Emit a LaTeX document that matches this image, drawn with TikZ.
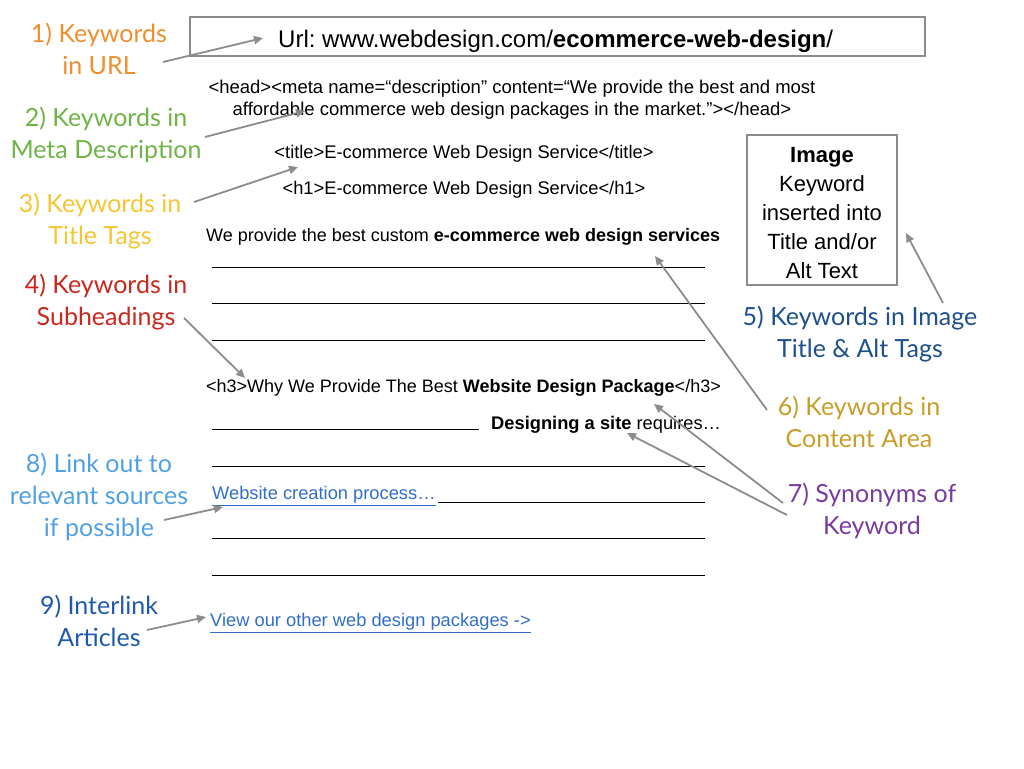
\documentclass[tikz,border=0pt]{standalone}
\usepackage{fontspec}
\setsansfont{Liberation Sans}
\newfontfamily\tagfont{Lato}
\usetikzlibrary{arrows.meta}

\definecolor{urlorange}{RGB}{238,142,44}
\definecolor{metagreen}{RGB}{110,180,70}
\definecolor{titleyellow}{RGB}{244,198,52}
\definecolor{subred}{RGB}{200,40,30}
\definecolor{imgblue}{RGB}{30,80,140}
\definecolor{contgold}{RGB}{200,158,40}
\definecolor{synpurple}{RGB}{120,60,160}
\definecolor{outblue}{RGB}{80,160,230}
\definecolor{interblue}{RGB}{30,90,170}
\definecolor{linkblue}{RGB}{50,110,200}
\definecolor{arrowgray}{RGB}{140,140,140}

\begin{document}
\frenchspacing
\begin{tikzpicture}[
    x=1pt, y=-1pt,
    tag/.style={align=center, inner sep=0pt, font=\tagfont\fontsize{25}{32}\selectfont},
    code/.style={anchor=west, inner sep=0pt, font=\sffamily\fontsize{18.3}{22}\selectfont},
    codec/.style={align=center, inner sep=0pt, font=\sffamily\fontsize{18.3}{22}\selectfont},
    link/.style={code, text=linkblue},
    rule/.style={line width=1pt},
    frame/.style={draw=arrowgray, line width=2pt},
    arrow/.style={-{Triangle[length=9pt,width=8pt]}, line width=1.8pt, draw=arrowgray}
]
\useasboundingbox (0,0) rectangle (1024,768);

% Labels on the left and right
\node[tag, text=urlorange] (kwurl) at (99,49) {1) Keywords\\in URL};
\node[tag, text=metagreen] (kwmeta) at (106,135) {2) Keywords in\\Meta Description};
\node[tag, text=titleyellow] (kwtitle) at (100,221) {3) Keywords in\\Title Tags};
\node[tag, text=subred] (kwsub) at (106,302) {4) Keywords in\\Subheadings};
\node[tag, text=imgblue] (kwimg) at (860,334) {5) Keywords in Image\\Title \& Alt Tags};
\node[tag, text=contgold] (kwcont) at (859,422) {6) Keywords in\\Content Area};
\node[tag, text=synpurple] (kwsyn) at (872,511) {7) Synonyms of\\Keyword};
\node[tag, text=outblue] (kwout) at (99,497) {8) Link out to\\relevant sources\\if possible};
\node[tag, text=interblue] (kwinter) at (99,621) {9) Interlink\\Articles};

% Page mock-up
\node[frame, minimum width=735pt, minimum height=39pt] (urlbox) at (557.5,36.5) {};
\node[code, font=\sffamily\fontsize{24}{28}\selectfont] (url) at (278,41) {Url: www.webdesign.com/\textbf{ecommerce-web-design}/};
\node[codec, font=\sffamily\fontsize{18.5}{22}\selectfont] (meta) at (512,100) {<head><meta name=“description” content=“We provide the best and most\\affordable commerce web design packages in the market.”></head>};
\node[codec] (titletag) at (464,154) {<title>E-commerce Web Design Service</title>};
\node[codec] (h1tag) at (464,190) {<h1>E-commerce Web Design Service</h1>};
\node[code, font=\sffamily\fontsize{18}{22}\selectfont] (intro) at (206,237) {We provide the best custom \textbf{e-commerce web design services}};
\node[code, font=\sffamily\fontsize{18}{22}\selectfont] (h3tag) at (206,388) {<h3>Why We Provide The Best \textbf{Website Design Package}</h3>};
\node[code] (design) at (491,425) {\textbf{Designing a site} requires…};
\node[link] (outlink) at (212,496) {\underline{Website creation process…}};
\node[link] (morelink) at (210,623) {\underline{View our other web design packages ->}};

\foreach \y in {267,303,340,466,538,575}
  \draw[rule] (212,\y) -- (705,\y);
\draw[rule] (212,429) -- (479,429);
\draw[rule] (438,502) -- (705,502);

% Image box
\node[frame, minimum width=150pt, minimum height=150pt] (imgbox) at (822,210) {};
\node[font=\sffamily\fontsize{22}{29}\selectfont, align=center, inner sep=0pt] (imgtext) at (822,213)
  {\textbf{Image}\\Keyword\\inserted into\\Title and/or\\Alt Text};

% Arrow ends
\coordinate (urlfrom) at (163,62);   \coordinate (urlto) at (263,38);
\coordinate (metafrom) at (205,137); \coordinate (metato) at (305,111);
\coordinate (titlefrom) at (194,202);\coordinate (titleto) at (298,167);
\coordinate (subfrom) at (184,318);  \coordinate (subto) at (245,378);
\coordinate (imgfrom) at (943,303);  \coordinate (imgto) at (906,233);
\coordinate (contfrom) at (767,410); \coordinate (contto) at (655,256);
\coordinate (synfromA) at (783,503); \coordinate (syntoA) at (654,404);
\coordinate (synfromB) at (787,515); \coordinate (syntoB) at (627,433);
\coordinate (outfrom) at (164,520);  \coordinate (outto) at (223,507);
\coordinate (interfrom) at (147,630);\coordinate (interto) at (206,617);

\draw[arrow] (urlfrom) -- (urlto);
\draw[arrow] (metafrom) -- (metato);
\draw[arrow] (titlefrom) -- (titleto);
\draw[arrow] (subfrom) -- (subto);
\draw[arrow] (imgfrom) -- (imgto);
\draw[arrow] (contfrom) -- (contto);
\draw[arrow] (synfromA) -- (syntoA);
\draw[arrow] (synfromB) -- (syntoB);
\draw[arrow] (outfrom) -- (outto);
\draw[arrow] (interfrom) -- (interto);

\end{tikzpicture}
\end{document}
